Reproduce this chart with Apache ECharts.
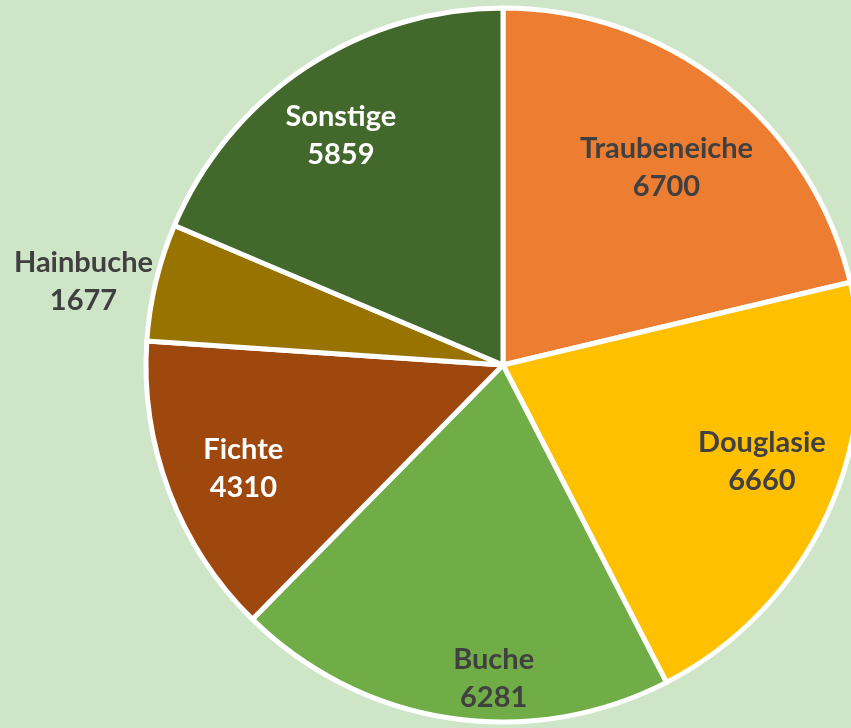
<!DOCTYPE html>
<html>
<head>
<meta charset="utf-8">
<script src="https://cdn.jsdelivr.net/npm/echarts@6/dist/echarts.min.js"></script>
<style>
  html, body { margin: 0; padding: 0; background: #CFE5C8; }
  #chart { width: 851px; height: 728px; }
</style>
</head>
<body>
<div id="chart"></div>
<script>
// Daten
const kategorien = ['Traubeneiche', 'Douglasie', 'Buche', 'Fichte', 'Hainbuche', 'Sonstige'];
const werte = [6700, 6660, 6281, 4310, 1677, 5859];
const farben = ['#ED7D31', '#FFC000', '#70AD47', '#9E480E', '#997300', '#43682B'];
const textFarben = ['#404040', '#404040', '#404040', '#FFFFFF', '#404040', '#FFFFFF'];
// Verschiebung der Beschriftungen gegenüber der Mitte des Segments
const labelOffsets = [[51, -55], [94, 21], [18, 134], [-90, 39], [-243, -41], [-62, -78]];

const chart = echarts.init(document.getElementById('chart'));

const option = {
  backgroundColor: '#CFE5C8',
  animation: false,
  series: [{
    type: 'pie',
    center: [503, 365],
    radius: [0, 357],
    startAngle: 90,
    clockwise: true,
    avoidLabelOverlap: false,
    labelLine: { show: false },
    itemStyle: { borderColor: '#FFFFFF', borderWidth: 5 },
    label: {
      position: 'inside',
      fontFamily: 'Lato',
      fontWeight: 'bold',
      fontSize: 29,
      lineHeight: 38,
      formatter: p => p.name + '\n' + p.value
    },
    data: kategorien.map((name, i) => ({
      name: name,
      value: werte[i],
      itemStyle: { color: farben[i] },
      label: { color: textFarben[i], offset: labelOffsets[i] }
    }))
  }]
};

chart.setOption(option);
window.addEventListener('resize', () => chart.resize());
</script>
</body>
</html>
